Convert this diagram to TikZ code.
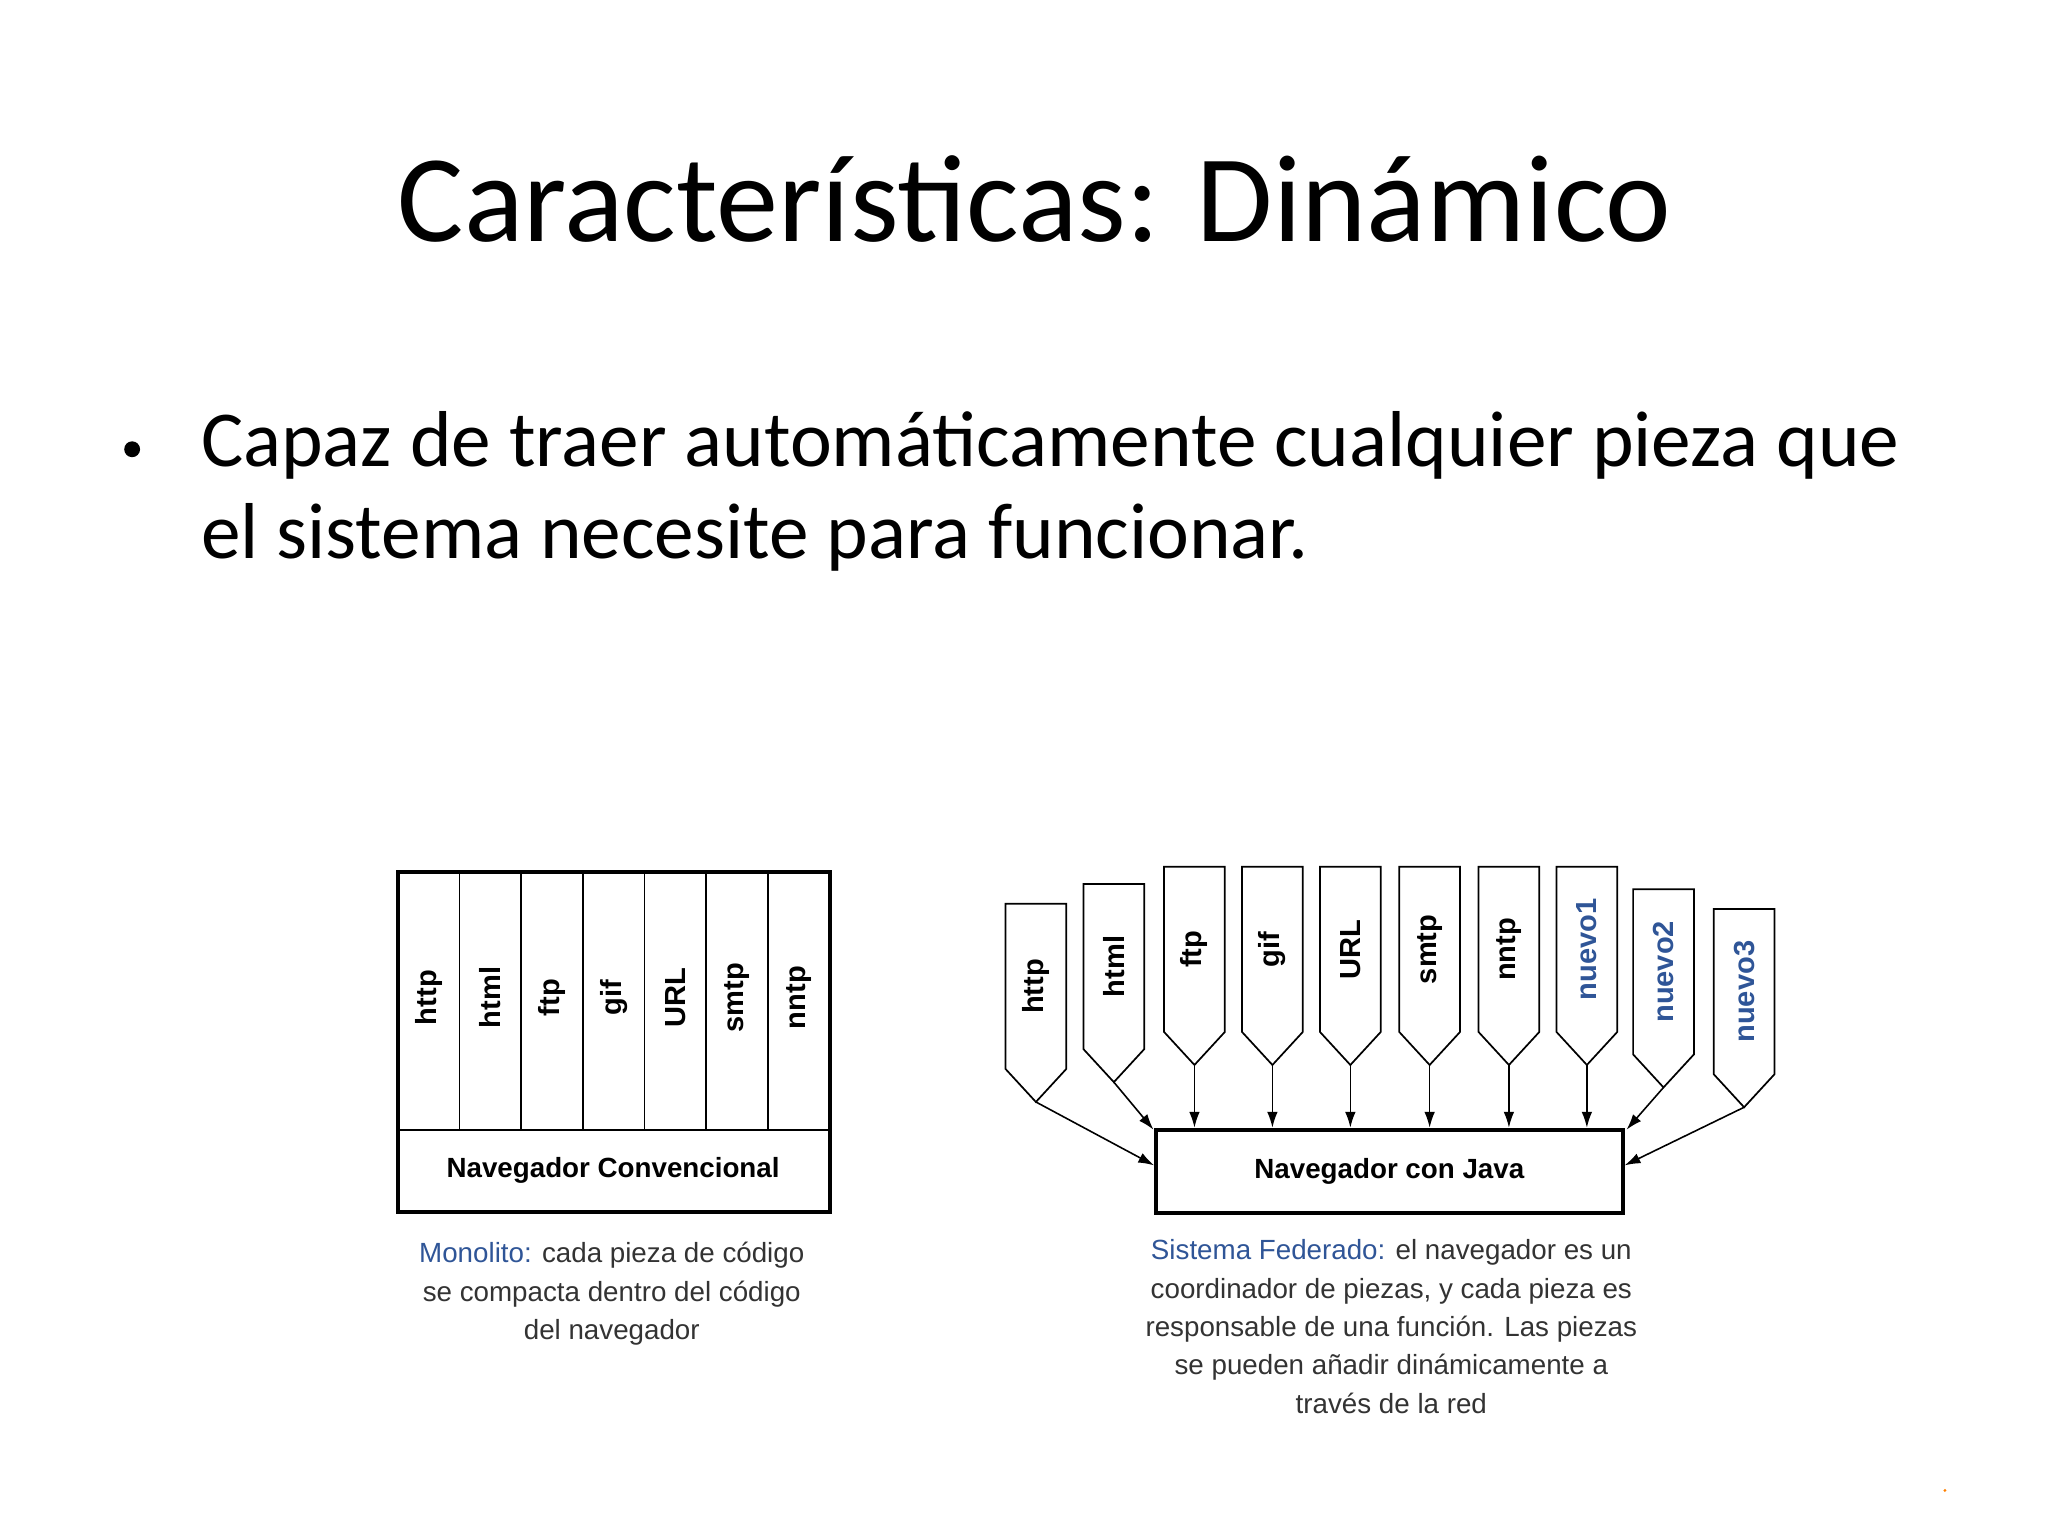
\documentclass[tikz,border=0pt]{standalone}
\usepackage{fontspec}
\setmainfont{Carlito}
\newfontfamily\arialf{Liberation Sans}
\usetikzlibrary{arrows.meta}
\definecolor{capblue}{HTML}{2F5597}
\definecolor{capgray}{HTML}{333333}
\tikzset{
  lbl/.style={font=\arialf\bfseries\fontsize{22}{24}\selectfont, rotate=90, inner sep=0pt},
  boxline/.style={draw=black, line width=3pt},
  thinline/.style={draw=black, line width=1.3pt},
  arr/.style={draw=black, line width=1.2pt, -{Latex[length=12pt,width=8pt]}},
  captext/.style={font=\arialf\fontsize{21}{29}\selectfont, text=capgray, align=center, inner sep=0pt, anchor=north}
}
\begin{document}
\begin{tikzpicture}[x=1pt,y=-1pt]
\useasboundingbox (0,0) rectangle (1550,1163);
\node[font=\fontsize{94}{100}\selectfont, anchor=base] (title) at (783,183) {Características: Dinámico};
\fill (100,340) circle (6);
\node[font=\fontsize{60}{68}\selectfont, anchor=base west, inner sep=0pt] (b1) at (152,353) {Capaz de traer automáticamente cualquier pieza que};
\node[font=\fontsize{60}{68}\selectfont, anchor=base west, inner sep=0pt] (b2) at (152,423) {el sistema necesite para funcionar.};
% left diagram
\draw[boxline] (301,660) rectangle (628,917);
\draw[thinline] (301,855) -- (628,855);
\foreach \i in {1,...,6} { \draw[thinline] (301+46.7*\i,660) -- (301+46.7*\i,855); }
\foreach \t [count=\i] in {http,html,ftp,gif,URL,smtp,nntp} {
  \node[lbl] (L\i) at (301+46.7*\i-23.35,755) {\t};
}
\node[font=\arialf\bfseries\fontsize{21}{24}\selectfont] (nc) at (464,886) {Navegador Convencional};
\node[captext] (c1) at (463,940) {\textcolor{capblue}{Monolito:} cada pieza de código\\se compacta dentro del código\\del navegador};
% right diagram
\node[boxline, minimum width=353pt, minimum height=63pt, inner sep=0pt, font=\arialf\bfseries\fontsize{21}{24}\selectfont] (java) at (1051.5,886.5) {Navegador con Java};
\foreach \x/\top/\t/\c [count=\i] in {761/684/http/black,820/669/html/black,881/656/ftp/black,940/656/gif/black,999/656/URL/black,1059/656/smtp/black,1119/656/nntp/black,1178/656/nuevo1/capblue,1236/673/nuevo2/capblue,1297/688/nuevo3/capblue} {
  \pgfmathsetmacro{\bot}{\top+125}
  \pgfmathsetmacro{\tip}{\top+150}
  \draw[thinline, line join=miter] (\x,\top) -- (\x+46,\top) -- (\x+46,\bot) -- (\x+23,\tip) -- (\x,\bot) -- cycle;
  \coordinate (t\i) at (\x+23,\tip);
  \node[lbl, text=\c] (R\i) at (\x+23,{(\top+\bot)/2}) {\t};
}
\draw[arr] (t1) -- (java.west |- 0,882);
\draw[arr] (t2) -- (873,855);
\foreach \i in {3,...,8} { \draw[arr] (t\i) -- (t\i |- java.north); }
\draw[arr] (t9) -- (1231,855);
\draw[arr] (t10) -- (java.east |- 0,882);
\node[captext] (c2) at (1053,938) {\textcolor{capblue}{Sistema Federado:} el navegador es un\\coordinador de piezas, y cada pieza es\\responsable de una función. Las piezas\\se pueden añadir dinámicamente a\\través de la red};
\fill[orange] (1472,1128) circle (1.2);
\end{tikzpicture}
\end{document}
